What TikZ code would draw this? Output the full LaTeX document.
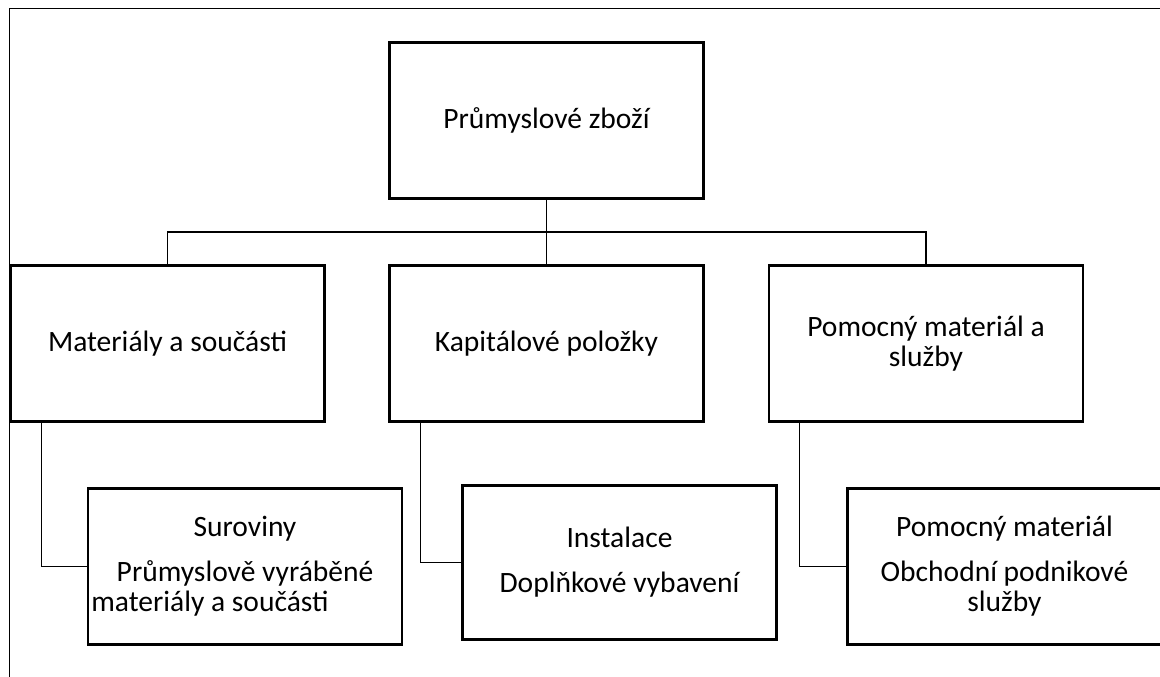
\documentclass[tikz,border=0pt]{standalone}
\usepackage{fontspec}
\setmainfont{Carlito}
\tikzset{
  box/.style={rectangle, draw, line width=1.5pt, inner sep=0pt, align=center,
    minimum width=7.85cm, minimum height=3.9cm,
    font=\fontsize{21}{21.3}\selectfont},
  link/.style={line width=0.8pt},
}
\begin{document}
\begin{tikzpicture}[x=0.025cm, y=-0.025cm]
    \clip (0,0) rectangle (1160,677);
    \draw[line width=1.4pt] (9.5,677) |- (1160,8.5);
    \node[box] (top) at (546.5,120.5) {Průmyslové zboží};
    \node[box] (matl) at (167.5,343.5) {Materiály a součásti};
    \node[box] (kap) at (546.5,343.5) {Kapitálové položky};
    \node[box] (pom) at (926,343.5) {Pomocný materiál a\\služby};
    \node[box] (sur) at (245,566.5) {Suroviny\\[0.375cm]Průmyslově vyráběné\\materiály a součásti\hspace*{1.75cm}};
    \node[box, minimum height=3.85cm] (ins) at (619.5,562.5) {Instalace\\[0.375cm]Doplňkové vybavení};
    \node[box] (pmat) at (1004.5,566.5) {Pomocný materiál\\[0.375cm]Obchodní podnikové\\služby};
    \coordinate (bus) at (546.5,232);
    \draw[link] (top.south) -- (kap.north);
    \draw[link] (matl.north) |- (bus) -| (pom.north);
    \draw[link] ([xshift=0.8cm]matl.south west) |- (sur.west);
    \draw[link] ([xshift=0.8cm]kap.south west) |- (ins.west);
    \draw[link] ([xshift=0.8cm]pom.south west) |- (pmat.west);
\end{tikzpicture}
\end{document}
